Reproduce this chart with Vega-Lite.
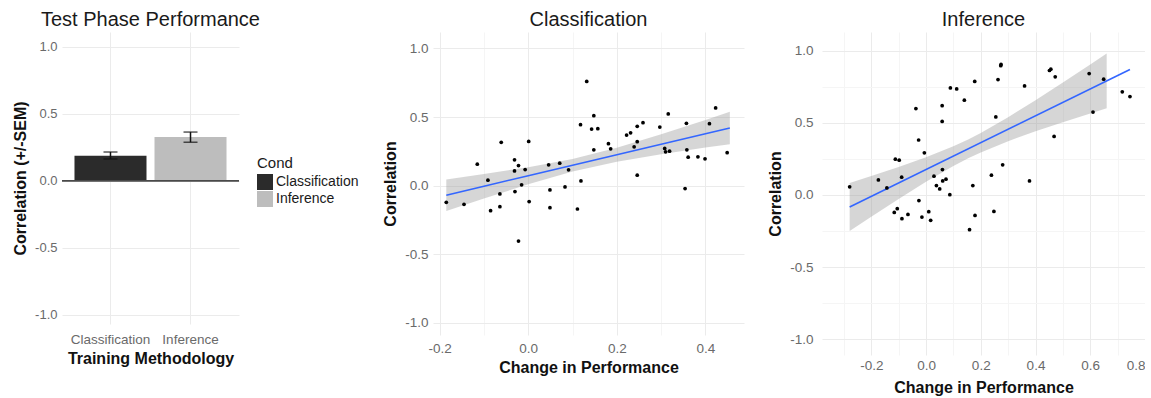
{
  "$schema": "https://vega.github.io/schema/vega-lite/v6.json",
  "padding": {"left": 12, "top": 10, "right": 0, "bottom": 0},
  "spacing": 23,
  "config": {
    "font": "Liberation Sans",
    "view": {"stroke": null},
    "axis": {
      "ticks": false,
      "domain": false,
      "labelFontSize": 13,
      "labelColor": "#6a6a6a",
      "labelOverlap": false,
      "titleFontSize": 16,
      "titleFontWeight": "bold",
      "titleColor": "#111111",
      "gridColor": "#ebebeb",
      "labelPadding": 5,
      "titlePadding": 6
    },
    "title": {"fontSize": 20, "fontWeight": "normal", "color": "#1a1a1a", "offset": 2}
  },
  "datasets": {
    "bars": [
      {"cond": "Classification", "mean": 0.187, "lo": 0.162, "hi": 0.214},
      {"cond": "Inference", "mean": 0.326, "lo": 0.287, "hi": 0.363}
    ],
    "cls": [
      {"x": -0.185, "y": -0.122}, {"x": -0.145, "y": -0.137}, {"x": -0.115, "y": 0.156}, {"x": -0.091, "y": 0.039},
      {"x": -0.085, "y": -0.183}, {"x": -0.064, "y": -0.061}, {"x": -0.064, "y": -0.154}, {"x": -0.061, "y": 0.315},
      {"x": -0.031, "y": 0.188}, {"x": -0.031, "y": 0.107}, {"x": -0.030, "y": -0.044}, {"x": -0.022, "y": 0.146},
      {"x": -0.022, "y": -0.405}, {"x": -0.015, "y": 0.005}, {"x": -0.007, "y": 0.117}, {"x": 0.001, "y": 0.322},
      {"x": 0.002, "y": -0.117}, {"x": 0.046, "y": 0.151}, {"x": 0.049, "y": -0.032}, {"x": 0.049, "y": -0.161},
      {"x": 0.071, "y": 0.163}, {"x": 0.083, "y": -0.010}, {"x": 0.091, "y": 0.115}, {"x": 0.111, "y": -0.171},
      {"x": 0.118, "y": 0.444}, {"x": 0.119, "y": 0.034}, {"x": 0.132, "y": 0.759}, {"x": 0.143, "y": 0.412},
      {"x": 0.148, "y": 0.510}, {"x": 0.148, "y": 0.261}, {"x": 0.157, "y": 0.415}, {"x": 0.181, "y": 0.305},
      {"x": 0.186, "y": 0.268}, {"x": 0.222, "y": 0.368}, {"x": 0.231, "y": 0.385}, {"x": 0.239, "y": 0.283},
      {"x": 0.246, "y": 0.320}, {"x": 0.246, "y": 0.432}, {"x": 0.246, "y": 0.076}, {"x": 0.259, "y": 0.459},
      {"x": 0.297, "y": 0.427}, {"x": 0.308, "y": 0.271}, {"x": 0.310, "y": 0.246}, {"x": 0.316, "y": 0.522},
      {"x": 0.319, "y": 0.251}, {"x": 0.354, "y": -0.022}, {"x": 0.357, "y": 0.454}, {"x": 0.358, "y": 0.261},
      {"x": 0.361, "y": 0.207}, {"x": 0.383, "y": 0.210}, {"x": 0.399, "y": 0.195}, {"x": 0.409, "y": 0.451},
      {"x": 0.423, "y": 0.566}, {"x": 0.449, "y": 0.240}
    ],
    "clsBand": [
      {"x": -0.185, "fit": -0.070, "lo": -0.185, "hi": 0.045},
      {"x": -0.1, "fit": -0.005, "lo": -0.094, "hi": 0.084},
      {"x": 0.0, "fit": 0.072, "lo": 0.009, "hi": 0.134},
      {"x": 0.1, "fit": 0.148, "lo": 0.102, "hi": 0.194},
      {"x": 0.2, "fit": 0.225, "lo": 0.174, "hi": 0.276},
      {"x": 0.3, "fit": 0.301, "lo": 0.228, "hi": 0.374},
      {"x": 0.4, "fit": 0.378, "lo": 0.277, "hi": 0.479},
      {"x": 0.455, "fit": 0.420, "lo": 0.302, "hi": 0.538}
    ],
    "inf": [
      {"x": -0.279, "y": 0.056}, {"x": -0.174, "y": 0.104}, {"x": -0.143, "y": 0.049}, {"x": -0.116, "y": -0.121},
      {"x": -0.112, "y": 0.248}, {"x": -0.105, "y": -0.095}, {"x": -0.098, "y": 0.241}, {"x": -0.089, "y": 0.123},
      {"x": -0.088, "y": -0.165}, {"x": -0.066, "y": -0.135}, {"x": -0.037, "y": 0.599}, {"x": -0.027, "y": 0.381},
      {"x": -0.026, "y": -0.039}, {"x": -0.015, "y": -0.153}, {"x": -0.006, "y": 0.292}, {"x": 0.010, "y": -0.116},
      {"x": 0.017, "y": -0.176}, {"x": 0.029, "y": 0.130}, {"x": 0.038, "y": 0.065}, {"x": 0.050, "y": 0.042},
      {"x": 0.059, "y": 0.619}, {"x": 0.059, "y": 0.510}, {"x": 0.060, "y": 0.176}, {"x": 0.061, "y": 0.097},
      {"x": 0.073, "y": 0.109}, {"x": 0.087, "y": 0.002}, {"x": 0.089, "y": 0.742}, {"x": 0.112, "y": 0.735},
      {"x": 0.140, "y": 0.657}, {"x": 0.159, "y": -0.241}, {"x": 0.171, "y": 0.065}, {"x": 0.178, "y": 0.787},
      {"x": 0.179, "y": -0.142}, {"x": 0.239, "y": 0.137}, {"x": 0.248, "y": -0.114}, {"x": 0.255, "y": 0.541},
      {"x": 0.263, "y": 0.800}, {"x": 0.273, "y": 0.896}, {"x": 0.274, "y": 0.905}, {"x": 0.280, "y": 0.209},
      {"x": 0.360, "y": 0.756}, {"x": 0.378, "y": 0.097}, {"x": 0.451, "y": 0.863}, {"x": 0.456, "y": 0.872},
      {"x": 0.468, "y": 0.406}, {"x": 0.472, "y": 0.819}, {"x": 0.596, "y": 0.842}, {"x": 0.610, "y": 0.575},
      {"x": 0.649, "y": 0.803}, {"x": 0.717, "y": 0.715}, {"x": 0.745, "y": 0.682}
    ],
    "infBand": [
      {"x": -0.279, "lo": -0.250, "hi": 0.082},
      {"x": -0.2, "lo": -0.151, "hi": 0.131},
      {"x": -0.1, "lo": -0.028, "hi": 0.194},
      {"x": 0.0, "lo": 0.091, "hi": 0.261},
      {"x": 0.1, "lo": 0.201, "hi": 0.337},
      {"x": 0.154, "lo": 0.255, "hi": 0.385},
      {"x": 0.2, "lo": 0.295, "hi": 0.429},
      {"x": 0.3, "lo": 0.373, "hi": 0.539},
      {"x": 0.4, "lo": 0.441, "hi": 0.657},
      {"x": 0.5, "lo": 0.504, "hi": 0.780},
      {"x": 0.6, "lo": 0.565, "hi": 0.905},
      {"x": 0.66, "lo": 0.601, "hi": 0.981}
    ],
    "infFit": [
      {"x": -0.279, "fit": -0.084},
      {"x": 0.745, "fit": 0.870}
    ]
  },
  "resolve": {"scale": {"x": "independent", "y": "independent", "color": "independent"}, "legend": {"color": "independent"}},
  "hconcat": [
    {
      "width": 177,
      "height": 292,
      "title": {"text": "Test Phase Performance", "anchor": "start", "frame": "group", "dx": -21},
      "data": {"name": "bars"},
      "layer": [
        {
          "mark": {"type": "bar"},
          "encoding": {
            "x": {"field": "cond", "type": "nominal", "title": "Training Methodology",
                  "scale": {"paddingInner": 0.1, "paddingOuter": 0.156},
                  "axis": {"labelAngle": 0, "grid": true, "bandPosition": 0.5, "labelPadding": 8, "titlePadding": 5, "labelFontSize": 13.5, "labelOverlap": false}},
            "y": {"field": "mean", "type": "quantitative", "title": "Correlation (+/-SEM)",
                  "scale": {"domain": [-1.07, 1.11], "nice": false, "zero": false},
                  "axis": {
                    "values": [-1, -0.75, -0.5, -0.25, 0, 0.25, 0.5, 0.75, 1],
                    "labelOverlap": false,
                    "labelExpr": "indexof([-0.75, -0.25, 0.25, 0.75], datum.value) >= 0 ? '' : replace(format(datum.value, '.1f'), '\u2212', '-')",
                    "gridColor": {"condition": {"test": "indexof([-0.75, -0.25, 0.25, 0.75], datum.value) >= 0", "value": "#f5f5f5"}, "value": "#ebebeb"}
                  }},
            "color": {"field": "cond", "type": "nominal",
                      "scale": {"domain": ["Classification", "Inference"], "range": ["#2b2b2b", "#bdbdbd"]},
                      "legend": {"title": "Cond", "orient": "none", "legendX": 195, "legendY": 124,
                                 "symbolType": "square", "symbolSize": 256, "symbolStrokeWidth": 0,
                                 "labelFontSize": 14, "labelColor": "#1a1a1a", "titleFontSize": 15, "titleFontWeight": "normal",
                                 "titleColor": "#1a1a1a", "rowPadding": 1, "labelOffset": 3, "titlePadding": 3, "padding": 0}}
          }
        },
        {
          "mark": {"type": "rule", "color": "#4a4a4a", "strokeWidth": 1.5},
          "encoding": {"y": {"datum": 0}}
        },
        {
          "mark": {"type": "errorbar", "ticks": {"size": 14, "color": "#111111", "strokeWidth": 1.5}, "color": "#111111", "thickness": 1.5},
          "encoding": {
            "x": {"field": "cond", "type": "nominal", "title": "Training Methodology"},
            "y": {"field": "lo", "type": "quantitative", "title": "Correlation (+/-SEM)"},
            "y2": {"field": "hi"}
          }
        }
      ]
    },
    {
      "width": 311,
      "height": 303,
      "title": {"text": "Classification", "anchor": "middle"},
      "layer": [
        {
          "data": {"name": "clsBand"},
          "mark": {"type": "area", "color": "#999999", "opacity": 0.4},
          "encoding": {
            "x": {"field": "x", "type": "quantitative", "title": "Change in Performance",
                  "scale": {"domain": [-0.215, 0.487], "nice": false, "zero": false},
                  "axis": {
                    "values": [-0.2, -0.1, 0, 0.1, 0.2, 0.3, 0.4],
                    "labelOverlap": false,
                    "labelExpr": "indexof([-0.1, 0.1, 0.3], datum.value) >= 0 ? '' : replace(format(datum.value, '.1f'), '\u2212', '-')",
                    "gridColor": {"condition": {"test": "indexof([-0.1, 0.1, 0.3], datum.value) >= 0", "value": "#f5f5f5"}, "value": "#ebebeb"},
                    "labelPadding": 6, "titlePadding": 5, "labelFontSize": 13.5
                  }},
            "y": {"field": "lo", "type": "quantitative", "title": "Correlation",
                  "scale": {"domain": [-1.09, 1.12], "nice": false, "zero": false},
                  "axis": {
                    "values": [-1, -0.75, -0.5, -0.25, 0, 0.25, 0.5, 0.75, 1],
                    "labelOverlap": false,
                    "labelExpr": "indexof([-0.75, -0.25, 0.25, 0.75], datum.value) >= 0 ? '' : replace(format(datum.value, '.1f'), '\u2212', '-')",
                    "gridColor": {"condition": {"test": "indexof([-0.75, -0.25, 0.25, 0.75], datum.value) >= 0", "value": "#f5f5f5"}, "value": "#ebebeb"},
                    "labelFontSize": 13.5
                  }},
            "y2": {"field": "hi"}
          }
        },
        {
          "data": {"name": "clsBand"},
          "mark": {"type": "line", "color": "#3366ff", "strokeWidth": 1.6},
          "encoding": {
            "x": {"field": "x", "type": "quantitative"},
            "y": {"field": "fit", "type": "quantitative"}
          }
        },
        {
          "data": {"name": "cls"},
          "mark": {"type": "circle", "color": "#000000", "opacity": 1, "size": 14},
          "encoding": {
            "x": {"field": "x", "type": "quantitative"},
            "y": {"field": "y", "type": "quantitative"}
          }
        }
      ]
    },
    {
      "width": 323,
      "height": 323,
      "title": {"text": "Inference", "anchor": "middle"},
      "resolve": {"axis": {"x": "independent"}},
      "layer": [
        {
          "data": {"name": "infBand"},
          "mark": {"type": "area", "color": "#999999", "opacity": 0.4},
          "encoding": {
            "x": {"field": "x", "type": "quantitative", "title": "Change in Performance",
                  "scale": {"domain": [-0.38, 0.8], "nice": false, "zero": false},
                  "axis": {
                    "orient": "bottom",
                    "values": [-0.2, 0, 0.2, 0.4, 0.6, 0.8],
                    "labelOverlap": false,
                    "labelFlush": true,
                    "labelExpr": "replace(format(datum.value, '.1f'), '\u2212', '-')",
                    "labelPadding": 3, "titlePadding": 8, "labelFontSize": 13.5
                  }},
            "y": {"field": "lo", "type": "quantitative", "title": "Correlation",
                  "scale": {"domain": [-1.11, 1.13], "nice": false, "zero": false},
                  "axis": {
                    "values": [-1, -0.75, -0.5, -0.25, 0, 0.25, 0.5, 0.75, 1],
                    "labelOverlap": false,
                    "labelExpr": "indexof([-0.75, -0.25, 0.25, 0.75], datum.value) >= 0 ? '' : replace(format(datum.value, '.1f'), '\u2212', '-')",
                    "gridColor": {"condition": {"test": "indexof([-0.75, -0.25, 0.25, 0.75], datum.value) >= 0", "value": "#f5f5f5"}, "value": "#ebebeb"},
                    "labelFontSize": 13.5, "labelPadding": 9
                  }},
            "y2": {"field": "hi"}
          }
        },
        {
          "data": {"name": "infFit"},
          "mark": {"type": "line", "color": "#3366ff", "strokeWidth": 1.6},
          "encoding": {
            "x": {"field": "x", "type": "quantitative",
                  "axis": {"orient": "top", "values": [-0.3, -0.1, 0.1, 0.3, 0.5, 0.7], "labels": false, "title": null, "grid": true, "gridColor": "#f5f5f5"}},
            "y": {"field": "fit", "type": "quantitative"}
          }
        },
        {
          "data": {"name": "inf"},
          "mark": {"type": "circle", "color": "#000000", "opacity": 1, "size": 14},
          "encoding": {
            "x": {"field": "x", "type": "quantitative", "axis": null},
            "y": {"field": "y", "type": "quantitative"}
          }
        }
      ]
    }
  ]
}
